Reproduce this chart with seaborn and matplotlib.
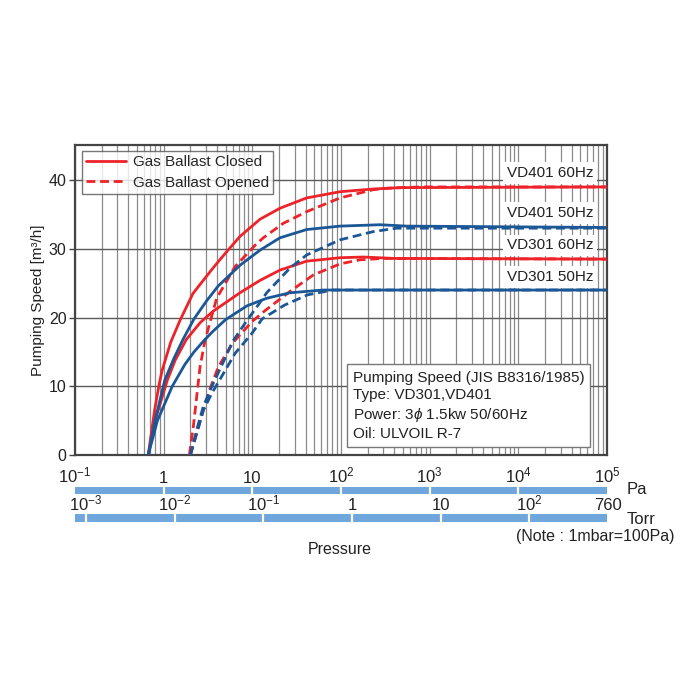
import matplotlib
matplotlib.use("Agg")
import matplotlib.pyplot as plt
from matplotlib import font_manager
from matplotlib.lines import Line2D
import seaborn as sns
import pandas as pd

# ---- data (pressure in Pa, speed in m3/h) ----
vd401_60_closed_pa = [0.67, 0.79, 0.89, 0.96, 1.2, 1.53, 2.14, 3.6, 5.0, 7.26, 12.2, 20.5, 41, 97.5, 231, 462, 1e5]
vd401_60_closed_s = [0, 6.5, 10.3, 12.3, 16.4, 19.6, 23.5, 27.2, 29.4, 31.8, 34.3, 35.9, 37.4, 38.3, 38.7, 38.9, 39.0]

vd401_50_closed_pa = [0.67, 0.8, 1.03, 1.3, 1.65, 2.2, 3.08, 4.13, 7.26, 12.2, 20.5, 41, 97.5, 275, 550, 1e5]
vd401_50_closed_s = [0, 5.0, 10.9, 14.0, 16.8, 19.8, 22.5, 24.6, 27.6, 29.8, 31.6, 32.8, 33.3, 33.5, 33.3, 33.1]

vd301_60_closed_pa = [0.67, 0.8, 1.1, 1.35, 1.8, 2.6, 3.6, 7.26, 12.2, 20.5, 41, 97.5, 179, 400, 1e5]
vd301_60_closed_s = [0, 5.0, 10.9, 13.8, 16.8, 19.3, 20.9, 23.6, 25.4, 26.9, 28.2, 28.7, 28.8, 28.6, 28.5]

vd301_50_closed_pa = [0.67, 0.85, 1.25, 1.74, 2.2, 2.78, 3.6, 5.0, 8.7, 14.5, 26.6, 63, 1e5]
vd301_50_closed_s = [0, 5.0, 10.0, 13.2, 15.0, 16.5, 18.0, 19.7, 21.7, 22.8, 23.6, 24.0, 24.0]

vd401_60_open_pa = [1.95, 2.16, 2.57, 2.93, 3.96, 6.38, 10.7, 13.3, 22.3, 41, 97.5, 231, 327, 800, 1e5]
vd401_60_open_s = [0, 4.1, 12.8, 16.7, 22.8, 27.4, 30.5, 31.6, 33.7, 35.4, 37.4, 38.6, 38.8, 39.0, 39.0]

vd401_50_open_pa = [2.0, 2.4, 2.79, 3.5, 4.5, 6.0, 8.3, 12.7, 14.5, 26.6, 41, 97.5, 231, 425, 800, 1e5]
vd401_50_open_s = [0, 4.0, 7.0, 10.0, 13.0, 16.5, 19.2, 22.5, 23.6, 27.2, 29.1, 31.3, 32.5, 33.0, 33.0, 33.0]

vd301_60_open_pa = [2.0, 2.4, 2.8, 3.3, 4.13, 6.0, 9.9, 13.9, 26.6, 48.8, 97.5, 164, 300, 1e5]
vd301_60_open_s = [0, 3.5, 6.5, 9.5, 12.8, 16.3, 19.4, 21.0, 23.8, 26.2, 27.8, 28.4, 28.6, 28.5]

vd301_50_open_pa = [2.0, 2.4, 2.8, 3.5, 4.5, 6.4, 9.9, 12.9, 23, 42, 80, 1e5]
vd301_50_open_s = [0, 3.5, 6.5, 9.0, 11.4, 14.8, 17.7, 19.8, 21.8, 23.3, 24.0, 24.0]

curve_labels = ["VD401 60Hz", "VD401 50Hz", "VD301 60Hz", "VD301 50Hz"]
pa_ticks = [0.1, 1, 10, 100, 1000, 1e4, 1e5]
pa_tick_labels = [r"$10^{-1}$", "1", "10", r"$10^{2}$", r"$10^{3}$", r"$10^{4}$", r"$10^{5}$"]
torr_ticks = [1e-3, 1e-2, 1e-1, 1, 10, 100, 760]
torr_tick_labels = [r"$10^{-3}$", r"$10^{-2}$", r"$10^{-1}$", "1", "10", r"$10^{2}$", "760"]
PA_PER_TORR = 133.3

# long table for seaborn
rows = []
series = [
    ("VD401 60Hz", "60Hz", "Closed", vd401_60_closed_pa, vd401_60_closed_s),
    ("VD401 50Hz", "50Hz", "Closed", vd401_50_closed_pa, vd401_50_closed_s),
    ("VD301 60Hz", "60Hz", "Closed", vd301_60_closed_pa, vd301_60_closed_s),
    ("VD301 50Hz", "50Hz", "Closed", vd301_50_closed_pa, vd301_50_closed_s),
    ("VD401 60Hz", "60Hz", "Opened", vd401_60_open_pa, vd401_60_open_s),
    ("VD401 50Hz", "50Hz", "Opened", vd401_50_open_pa, vd401_50_open_s),
    ("VD301 60Hz", "60Hz", "Opened", vd301_60_open_pa, vd301_60_open_s),
    ("VD301 50Hz", "50Hz", "Opened", vd301_50_open_pa, vd301_50_open_s),
]
for name, hz, ballast, xs, ys in series:
    for x, y in zip(xs, ys):
        rows.append({"curve": name + " " + ballast, "hz": hz, "ballast": ballast, "pa": x, "speed": y})
df = pd.DataFrame(rows)

sns.set_style("white")
installed = {f.name for f in font_manager.fontManager.ttflist}
fam = "Liberation Sans Narrow" if "Liberation Sans Narrow" in installed else "Liberation Sans"
plt.rcParams["font.family"] = [fam, "DejaVu Sans"]
plt.rcParams["mathtext.fontset"] = "custom"
plt.rcParams["mathtext.rm"] = fam
plt.rcParams["mathtext.it"] = fam + ":italic"
plt.rcParams["mathtext.bf"] = fam + ":bold"

RED = "#ee2229"
BLUE = "#1b5796"
BAR = "#6fa7dc"
TXT = "#222222"

W = H = 700.0
fig = plt.figure(figsize=(7, 7), dpi=100)
ax = fig.add_axes([75 / W, 1 - 455 / H, 532 / W, 310 / H])

sns.lineplot(
    data=df, x="pa", y="speed", hue="hz", style="ballast", units="curve",
    estimator=None, sort=False, palette={"60Hz": RED, "50Hz": BLUE},
    dashes={"Closed": "", "Opened": (3.2, 1.7)}, linewidth=2.0,
    legend=False, ax=ax, zorder=3,
)

ax.set_xscale("log")
ax.set_xlim(0.1, 1e5)
ax.set_ylim(0, 45.1)
ax.set_yticks([0, 10, 20, 30, 40])
ax.set_xlabel("")
ax.set_ylabel("")
ax.tick_params(axis="y", which="major", length=4, width=1, color="#444444",
               labelsize=11.5, labelcolor=TXT, pad=2, left=True)
ax.tick_params(axis="x", which="both", bottom=False, labelbottom=False)
ax.grid(True, axis="x", which="both", color="#8a8a8a", lw=0.9)
ax.grid(True, axis="y", which="major", color="#5a5a5a", lw=1.0)
ax.set_axisbelow(True)
for sp in ax.spines.values():
    sp.set_color("#444444")
    sp.set_linewidth(1.6)

# curve names at the right
for lbl, y in zip(curve_labels, [41.0, 35.2, 30.5, 25.9]):
    ax.text(2.3e4, y, lbl, ha="center", va="center", fontsize=11, color=TXT, zorder=4,
            bbox=dict(boxstyle="square,pad=0.25", fc="white", ec="none"))

# legend
handles = [Line2D([], [], color=RED, lw=2.0),
           Line2D([], [], color=RED, lw=2.0, dashes=(3.2, 1.7))]
leg = ax.legend(handles, ["Gas Ballast Closed", "Gas Ballast Opened"], loc="upper left",
                bbox_to_anchor=(0.005, 0.995), fontsize=11, frameon=True, fancybox=False,
                handlelength=2.6, handletextpad=0.5, borderpad=0.25, labelspacing=0.45,
                borderaxespad=0.3)
leg.get_frame().set_edgecolor("#555555")
leg.get_frame().set_linewidth(1.0)
leg.set_zorder(5)

# info box
info = ("Pumping Speed (JIS B8316/1985)\n"
        "Type: VD301,VD401\n"
        r"Power: 3$\phi$ 1.5kw 50/60Hz" "\n"
        "Oil: ULVOIL R-7")
ax.text(0.522, 0.045, info, transform=ax.transAxes, ha="left", va="bottom",
        fontsize=11, color=TXT, linespacing=1.3, zorder=5,
        bbox=dict(boxstyle="square,pad=0.4", fc="white", ec="#777777", lw=1.0))

# pressure scale bars
ax_pa = fig.add_axes([75 / W, 1 - 494 / H, 532 / W, 7 / H])
ax_torr = fig.add_axes([75 / W, 1 - 522 / H, 532 / W, 8 / H])
for bar_ax, ticks, labels, scale, off in [
    (ax_pa, pa_ticks, pa_tick_labels, 1.0, 3.0),
    (ax_torr, torr_ticks, torr_tick_labels, PA_PER_TORR, 2.6),
]:
    bar_ax.set_xscale("log")
    bar_ax.set_xlim(0.1, 1e5)
    bar_ax.set_ylim(0, 1)
    bar_ax.set_facecolor(BAR)
    bar_ax.set_xticks([])
    bar_ax.set_yticks([])
    bar_ax.minorticks_off()
    for sp in bar_ax.spines.values():
        sp.set_visible(False)
    for t, lbl in zip(ticks, labels):
        x = t * scale
        if 0.1 < x < 9e4:
            bar_ax.axvline(x, color="white", lw=1.6)
        bar_ax.annotate(lbl, xy=(x, 1), xycoords=("data", "axes fraction"),
                        xytext=(0, off), textcoords="offset points",
                        ha="center", va="baseline", fontsize=12, color=TXT,
                        annotation_clip=False)

fig.text(627 / W, 1 - 490 / H, "Pa", ha="left", va="center", fontsize=12, color=TXT)
fig.text(627 / W, 1 - 519 / H, "Torr", ha="left", va="center", fontsize=12, color=TXT)
fig.text(675 / W, 1 - 536 / H, "(Note : 1mbar=100Pa)", ha="right", va="center",
         fontsize=11.5, color=TXT)
fig.text(340 / W, 1 - 550 / H, "Pressure", ha="center", va="center", fontsize=11.5, color=TXT)
fig.text(38 / W, 1 - 300 / H, "Pumping Speed [m³/h]", rotation=90, ha="center",
         va="center", fontsize=11, color=TXT)

fig.savefig("out.png", dpi=100, facecolor="white")
